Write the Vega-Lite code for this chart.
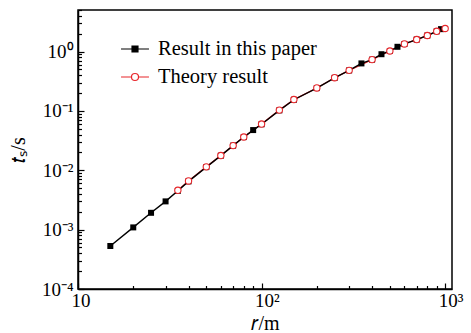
{
  "$schema": "https://vega.github.io/schema/vega-lite/v6.json",
  "width": 374,
  "height": 279,
  "autosize": {"type": "none"},
  "padding": {"left": 78, "top": 10, "right": 19, "bottom": 44},
  "background": "white",
  "config": {
    "view": {"stroke": "#000", "strokeWidth": 1.5},
    "font": "Liberation Serif"
  },
  "data": {"values": [
    {"series": "Result in this paper", "r": 15, "t": 0.00053},
    {"series": "Result in this paper", "r": 20, "t": 0.00109},
    {"series": "Result in this paper", "r": 25, "t": 0.00192},
    {"series": "Result in this paper", "r": 30, "t": 0.00299},
    {"series": "Result in this paper", "r": 35, "t": 0.0045},
    {"series": "Result in this paper", "r": 40, "t": 0.0065},
    {"series": "Result in this paper", "r": 50, "t": 0.0113},
    {"series": "Result in this paper", "r": 60, "t": 0.0176},
    {"series": "Result in this paper", "r": 70, "t": 0.026},
    {"series": "Result in this paper", "r": 80, "t": 0.0362},
    {"series": "Result in this paper", "r": 90, "t": 0.0475},
    {"series": "Result in this paper", "r": 100, "t": 0.0595},
    {"series": "Result in this paper", "r": 125, "t": 0.102},
    {"series": "Result in this paper", "r": 150, "t": 0.154},
    {"series": "Result in this paper", "r": 200, "t": 0.242},
    {"series": "Result in this paper", "r": 250, "t": 0.36},
    {"series": "Result in this paper", "r": 300, "t": 0.48},
    {"series": "Result in this paper", "r": 350, "t": 0.63},
    {"series": "Result in this paper", "r": 400, "t": 0.73},
    {"series": "Result in this paper", "r": 450, "t": 0.9},
    {"series": "Result in this paper", "r": 500, "t": 1.02},
    {"series": "Result in this paper", "r": 550, "t": 1.2},
    {"series": "Result in this paper", "r": 600, "t": 1.34},
    {"series": "Result in this paper", "r": 700, "t": 1.59},
    {"series": "Result in this paper", "r": 800, "t": 1.86},
    {"series": "Result in this paper", "r": 900, "t": 2.19},
    {"series": "Result in this paper", "r": 950, "t": 2.38},
    {"series": "Theory result", "r": 35, "t": 0.0046},
    {"series": "Theory result", "r": 40, "t": 0.0066},
    {"series": "Theory result", "r": 50, "t": 0.0114},
    {"series": "Theory result", "r": 60, "t": 0.0177},
    {"series": "Theory result", "r": 70, "t": 0.026},
    {"series": "Theory result", "r": 80, "t": 0.0363},
    {"series": "Theory result", "r": 100, "t": 0.06},
    {"series": "Theory result", "r": 125, "t": 0.103},
    {"series": "Theory result", "r": 150, "t": 0.155},
    {"series": "Theory result", "r": 200, "t": 0.243},
    {"series": "Theory result", "r": 250, "t": 0.362},
    {"series": "Theory result", "r": 300, "t": 0.481},
    {"series": "Theory result", "r": 400, "t": 0.73},
    {"series": "Theory result", "r": 500, "t": 1.02},
    {"series": "Theory result", "r": 600, "t": 1.34},
    {"series": "Theory result", "r": 700, "t": 1.59},
    {"series": "Theory result", "r": 800, "t": 1.86},
    {"series": "Theory result", "r": 900, "t": 2.19},
    {"series": "Theory result", "r": 1000, "t": 2.44}
  ]},
  "encoding": {
    "x": {
      "field": "r", "type": "quantitative",
      "scale": {"type": "log", "domain": [10, 1090], "nice": false},
      "axis": {
        "title": "𝑟/m",
        "titleFont": "Liberation Serif", "titleFontSize": 20, "titleFontWeight": "normal", "titleColor": "#000",
        "titlePadding": 1,
        "values": [10, 20, 30, 40, 50, 60, 70, 80, 90, 100, 200, 300, 400, 500, 600, 700, 800, 900, 1000],
        "labelExpr": "abs(log(datum.value)/LN10 - round(log(datum.value)/LN10)) < 0.01 ? ['10','10²','10³'][round(log(datum.value)/LN10)-1] : ''",
        "labelFont": "Liberation Serif", "labelFontSize": 19, "labelColor": "#000",
        "labelAlign": "left", "labelOffset": -7, "labelPadding": 8, "labelOverlap": false, "labelFlush": false,
        "tickSize": {"condition": {"test": "abs(log(datum.value)/LN10 - round(log(datum.value)/LN10)) < 0.01", "value": -6}, "value": -3.5},
        "tickColor": "#000", "tickWidth": 1.2,
        "domainColor": "#000", "domainWidth": 1.5, "grid": false
      }
    },
    "y": {
      "field": "t", "type": "quantitative",
      "scale": {"type": "log", "domain": [0.0001, 5], "nice": false},
      "axis": {
        "title": "𝑡ₛ/s",
        "titleFont": "Liberation Serif", "titleFontSize": 20, "titleFontWeight": "normal", "titleColor": "#000",
        "titlePadding": 13,
        "values": [0.0001, 0.0002, 0.0003, 0.0004, 0.0005, 0.0006, 0.0007, 0.0008, 0.0009, 0.001, 0.002, 0.003, 0.004, 0.005, 0.006, 0.007, 0.008, 0.009, 0.01, 0.02, 0.03, 0.04, 0.05, 0.06, 0.07, 0.08, 0.09, 0.1, 0.2, 0.3, 0.4, 0.5, 0.6, 0.7, 0.8, 0.9, 1, 2, 3, 4, 5],
        "labelExpr": "abs(log(datum.value)/LN10 - round(log(datum.value)/LN10)) < 0.01 ? ['10⁻⁴','10⁻³','10⁻²','10⁻¹','10⁰'][round(log(datum.value)/LN10)+4] : ''",
        "labelFont": "Liberation Serif", "labelFontSize": 19, "labelColor": "#000",
        "labelPadding": 11, "labelOverlap": false, "labelFlush": false,
        "tickSize": {"condition": {"test": "abs(log(datum.value)/LN10 - round(log(datum.value)/LN10)) < 0.01", "value": -6}, "value": -3.5},
        "tickColor": "#000", "tickWidth": 1.2,
        "domainColor": "#000", "domainWidth": 1.5, "grid": false
      }
    }
  },
  "layer": [
    {
      "transform": [{"filter": "datum.series === 'Theory result'"}],
      "mark": {"type": "line", "color": "#e8262b", "strokeWidth": 1.3}
    },
    {
      "transform": [{"filter": "datum.series === 'Result in this paper'"}],
      "mark": {"type": "line", "color": "#000", "strokeWidth": 1.4}
    },
    {
      "transform": [{"filter": "datum.series === 'Result in this paper'"}],
      "mark": {"type": "point", "shape": "square", "filled": true, "color": "#000", "opacity": 1, "size": 36}
    },
    {
      "transform": [{"filter": "datum.series === 'Theory result'"}],
      "mark": {"type": "point", "shape": "circle", "filled": false, "fill": "#ffffff", "fillOpacity": 1, "stroke": "#e8262b", "strokeWidth": 1.1, "opacity": 1, "size": 40}
    },
    {
      "transform": [{"filter": "false"}],
      "mark": {"type": "point", "opacity": 1, "strokeWidth": 1.2},
      "encoding": {
        "color": {
          "field": "series", "type": "nominal",
          "scale": {"domain": ["Result in this paper", "Theory result"], "range": ["#000000", "#e8262b"]},
          "legend": {
            "orient": "none", "legendX": 45, "legendY": 27, "title": null, "padding": 0,
            "symbolSize": 484, "symbolStrokeWidth": 1.2, "symbolOpacity": 1, "rowPadding": 5, "labelOffset": 11,
            "labelFont": "Liberation Serif", "labelFontSize": 20.5, "labelColor": "#000"
          }
        },
        "shape": {
          "field": "series", "type": "nominal",
          "scale": {"domain": ["Result in this paper", "Theory result"], "range": ["M-1.27,0H1.27M-0.27,-0.27H0.27V0.27H-0.27Z", "M-1.27,0H-0.32M0.32,0H1.27M0.32,0A0.32,0.32,0,1,1,-0.32,0A0.32,0.32,0,1,1,0.32,0Z"]}
        },
        "fill": {
          "field": "series", "type": "nominal",
          "scale": {"domain": ["Result in this paper", "Theory result"], "range": ["#000000", "#ffffff"]}
        }
      }
    }
  ]
}
